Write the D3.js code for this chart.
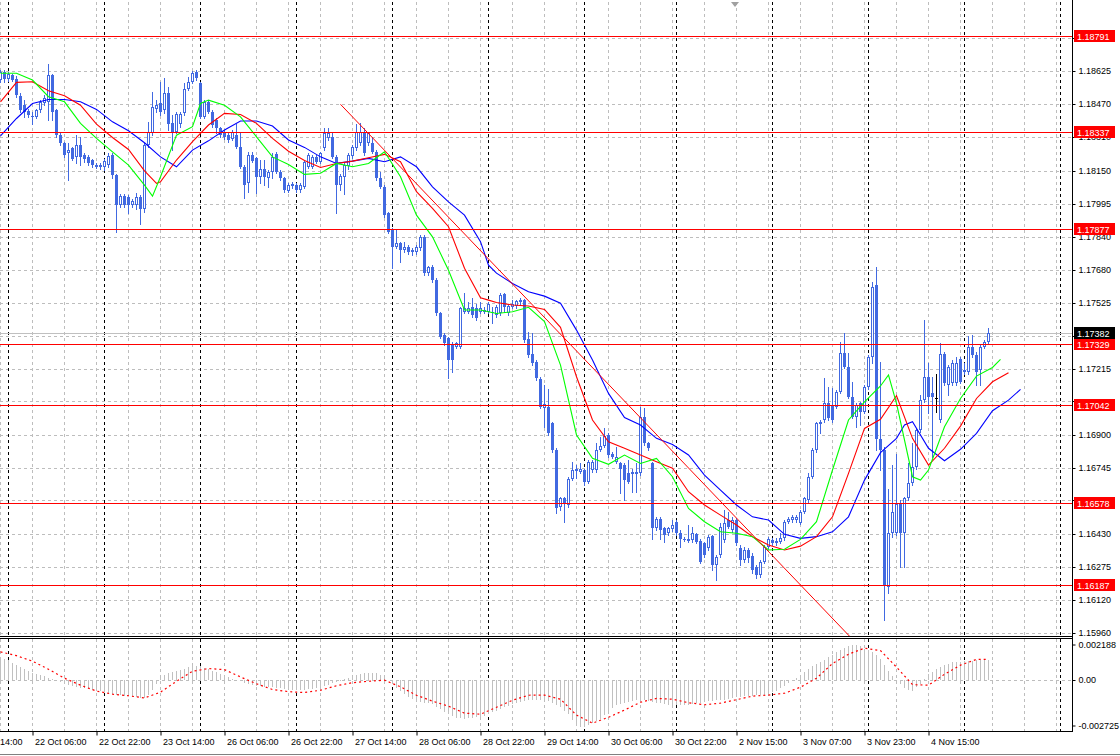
<!DOCTYPE html>
<html><head><meta charset="utf-8">
<script src="https://cdn.jsdelivr.net/npm/d3@7"></script>
<style>
html,body{margin:0;padding:0;background:#fff;}
svg{display:block;}
text{font-family:"Liberation Sans",Arial,sans-serif;font-size:9px;}
</style></head><body>
<svg id="chart" width="1120" height="756"></svg>
<script>
// ---------- DATA ----------
// H1 bars, bar 0 = 21 Oct 22:00
const timeLabels = ["21 Oct 14:00","22 Oct 06:00","22 Oct 22:00","23 Oct 14:00","26 Oct 06:00","26 Oct 22:00","27 Oct 14:00","28 Oct 06:00","28 Oct 22:00","29 Oct 14:00","30 Oct 06:00","30 Oct 22:00","2 Nov 15:00","3 Nov 07:00","3 Nov 23:00","4 Nov 15:00"];
const timeLabelBars = [-8,8,24,40,56,72,88,104,120,136,152,168,184,200,216,232];
const daySeparatorBars = [2,26,50,74,98,122,146,169,193,217,241,265];
// price grid levels (all) and the ones whose labels are not covered by level tags
const priceGrid = [1.18780,1.18625,1.18470,1.18310,1.18150,1.17995,1.17840,1.17680,1.17525,1.17370,1.17215,1.17060,1.16900,1.16745,1.16590,1.16430,1.16275,1.16120,1.15960];
const priceTicks = [1.18625,1.18470,1.18310,1.18150,1.17995,1.17840,1.17680,1.17525,1.17215,1.16900,1.16745,1.16430,1.16275,1.16120,1.15960];
const levelPrices = [1.18791,1.18337,1.17877,1.17329,1.17042,1.16578,1.16187];
const bidPrice = 1.17382;
const oscTicks = [0.002188,0,-0.002725];
const oscTickLabels = ["0.002188","0.00","-0.002725"];

// [open, high, low, close]
const ohlc = [
[1.18582,1.18629,1.18572,1.18620],[1.18620,1.18632,1.18575,1.18585],[1.18585,1.18620,1.18579,1.18610],[1.18604,1.18613,1.18579,1.18582],
[1.18585,1.18601,1.18503,1.18511],[1.18506,1.18519,1.18432,1.18440],[1.18463,1.18487,1.18408,1.18432],[1.18436,1.18447,1.18408,1.18416],
[1.18413,1.18432,1.18376,1.18408],[1.18408,1.18447,1.18400,1.18440],[1.18440,1.18487,1.18432,1.18479],[1.18471,1.18511,1.18463,1.18495],
[1.18479,1.18658,1.18392,1.18605],[1.18605,1.18613,1.18392,1.18432],[1.18440,1.18447,1.18310,1.18321],[1.18321,1.18329,1.18274,1.18282],
[1.18282,1.18289,1.18218,1.18226],[1.18234,1.18282,1.18108,1.18250],[1.18258,1.18266,1.18203,1.18210],[1.18218,1.18321,1.18187,1.18274],
[1.18274,1.18313,1.18179,1.18218],[1.18226,1.18234,1.18195,1.18210],[1.18218,1.18226,1.18179,1.18187],[1.18203,1.18210,1.18171,1.18179],
[1.18179,1.18190,1.18163,1.18171],[1.18179,1.18187,1.18162,1.18168],[1.18168,1.18210,1.18158,1.18198],[1.18179,1.18234,1.18171,1.18222],
[1.18226,1.18234,1.18116,1.18131],[1.18131,1.18139,1.17863,1.17989],[1.17989,1.18041,1.17981,1.18034],[1.18034,1.18041,1.17981,1.17989],
[1.18029,1.18037,1.17950,1.17989],[1.17989,1.18016,1.17981,1.18008],[1.17989,1.18045,1.17973,1.18029],[1.18029,1.18037,1.17902,1.17973],
[1.17973,1.18282,1.17958,1.18274],[1.18274,1.18384,1.18266,1.18337],[1.18329,1.18526,1.18321,1.18455],[1.18447,1.18487,1.18432,1.18463],
[1.18471,1.18574,1.18416,1.18432],[1.18440,1.18590,1.18424,1.18519],[1.18519,1.18550,1.18345,1.18376],[1.18380,1.18416,1.18250,1.18337],
[1.18337,1.18432,1.18329,1.18419],[1.18376,1.18432,1.18361,1.18419],[1.18424,1.18566,1.18416,1.18542],[1.18542,1.18598,1.18534,1.18574],
[1.18574,1.18626,1.18566,1.18617],[1.18621,1.18632,1.18582,1.18590],[1.18566,1.18574,1.18400,1.18408],[1.18408,1.18487,1.18400,1.18479],
[1.18479,1.18487,1.18424,1.18432],[1.18432,1.18440,1.18361,1.18368],[1.18392,1.18400,1.18329,1.18353],[1.18353,1.18361,1.18313,1.18321],
[1.18337,1.18345,1.18301,1.18310],[1.18321,1.18329,1.18289,1.18297],[1.18305,1.18345,1.18297,1.18337],[1.18321,1.18376,1.18258,1.18266],
[1.18266,1.18329,1.18163,1.18171],[1.18171,1.18179,1.18021,1.18084],[1.18092,1.18242,1.18052,1.18226],[1.18227,1.18242,1.18195,1.18200],
[1.18211,1.18219,1.18045,1.18124],[1.18124,1.18203,1.18092,1.18160],[1.18160,1.18203,1.18084,1.18124],[1.18116,1.18155,1.18076,1.18148],
[1.18148,1.18234,1.18116,1.18219],[1.18230,1.18242,1.18140,1.18148],[1.18148,1.18155,1.18108,1.18119],[1.18116,1.18124,1.18053,1.18061],
[1.18058,1.18092,1.18050,1.18084],[1.18081,1.18097,1.18072,1.18088],[1.18084,1.18092,1.18053,1.18061],[1.18061,1.18092,1.18053,1.18084],
[1.18076,1.18203,1.18069,1.18195],[1.18171,1.18234,1.18163,1.18227],[1.18171,1.18227,1.18163,1.18219],[1.18219,1.18227,1.18187,1.18195],
[1.18195,1.18242,1.18187,1.18234],[1.18258,1.18353,1.18250,1.18329],[1.18306,1.18353,1.18298,1.18329],[1.18313,1.18329,1.18211,1.18219],
[1.18219,1.18227,1.17950,1.18084],[1.18084,1.18135,1.18061,1.18129],[1.18124,1.18187,1.18040,1.18179],[1.18176,1.18234,1.18160,1.18227],
[1.18223,1.18274,1.18214,1.18265],[1.18258,1.18372,1.18250,1.18337],[1.18282,1.18377,1.18274,1.18334],[1.18337,1.18353,1.18227,1.18234],
[1.18282,1.18337,1.18274,1.18329],[1.18282,1.18313,1.18234,1.18242],[1.18242,1.18250,1.18108,1.18116],[1.18116,1.18148,1.18069,1.18076],
[1.18076,1.18084,1.17934,1.17942],[1.17950,1.17958,1.17855,1.17863],[1.17871,1.17879,1.17689,1.17792],[1.17792,1.17871,1.17784,1.17808],
[1.17808,1.17816,1.17721,1.17776],[1.17776,1.17816,1.17768,1.17792],[1.17792,1.17800,1.17760,1.17768],[1.17776,1.17784,1.17753,1.17768],
[1.17768,1.17800,1.17760,1.17792],[1.17784,1.17847,1.17776,1.17839],[1.17839,1.17847,1.17658,1.17666],[1.17666,1.17702,1.17658,1.17697],
[1.17697,1.17705,1.17626,1.17634],[1.17634,1.17642,1.17468,1.17476],[1.17476,1.17484,1.17358,1.17365],[1.17373,1.17381,1.17326,1.17334],
[1.17358,1.17365,1.17168,1.17255],[1.17326,1.17342,1.17200,1.17255],[1.17318,1.17342,1.17310,1.17334],[1.17318,1.17508,1.17310,1.17500],
[1.17484,1.17571,1.17476,1.17500],[1.17484,1.17531,1.17476,1.17500],[1.17508,1.17547,1.17460,1.17468],[1.17500,1.17523,1.17444,1.17452],
[1.17484,1.17531,1.17476,1.17500],[1.17492,1.17508,1.17476,1.17484],[1.17484,1.17531,1.17476,1.17523],[1.17484,1.17508,1.17432,1.17476],
[1.17468,1.17515,1.17460,1.17508],[1.17476,1.17574,1.17468,1.17563],[1.17568,1.17574,1.17484,1.17508],[1.17476,1.17523,1.17468,1.17511],
[1.17508,1.17539,1.17500,1.17523],[1.17511,1.17542,1.17504,1.17536],[1.17531,1.17547,1.17523,1.17539],[1.17539,1.17544,1.17342,1.17350],
[1.17353,1.17389,1.17271,1.17278],[1.17283,1.17381,1.17231,1.17239],[1.17247,1.17255,1.17160,1.17168],[1.17165,1.17176,1.17026,1.17034],
[1.17030,1.17136,1.16939,1.17049],[1.17034,1.17120,1.16899,1.16907],[1.16955,1.16962,1.16820,1.16828],[1.16828,1.16836,1.16528,1.16552],
[1.16560,1.16607,1.16544,1.16599],[1.16599,1.16607,1.16488,1.16575],[1.16567,1.16702,1.16560,1.16689],[1.16689,1.16773,1.16686,1.16733],
[1.16733,1.16757,1.16694,1.16741],[1.16725,1.16765,1.16718,1.16741],[1.16733,1.16741,1.16662,1.16678],[1.16678,1.16781,1.16670,1.16773],
[1.16733,1.16781,1.16725,1.16773],[1.16733,1.16860,1.16725,1.16831],[1.16831,1.16891,1.16825,1.16847],[1.16847,1.16931,1.16841,1.16895],
[1.16899,1.16907,1.16797,1.16804],[1.16812,1.16820,1.16789,1.16797],[1.16773,1.16844,1.16765,1.16797],[1.16765,1.16773,1.16623,1.16741],
[1.16757,1.16765,1.16591,1.16686],[1.16721,1.16781,1.16670,1.16678],[1.16718,1.16741,1.16631,1.16725],[1.16718,1.16765,1.16631,1.16725],
[1.16718,1.17034,1.16710,1.16986],[1.16986,1.17026,1.16852,1.16860],[1.16860,1.16868,1.16828,1.16836],[1.16765,1.16773,1.16409,1.16457],
[1.16457,1.16512,1.16449,1.16504],[1.16504,1.16512,1.16409,1.16449],[1.16457,1.16465,1.16394,1.16425],[1.16433,1.16465,1.16425,1.16457],
[1.16452,1.16496,1.16446,1.16473],[1.16488,1.16496,1.16425,1.16433],[1.16436,1.16449,1.16370,1.16405],[1.16409,1.16417,1.16398,1.16405],
[1.16402,1.16473,1.16394,1.16409],[1.16402,1.16465,1.16394,1.16433],[1.16430,1.16436,1.16386,1.16394],[1.16398,1.16405,1.16291,1.16299],
[1.16386,1.16394,1.16323,1.16330],[1.16362,1.16425,1.16354,1.16417],[1.16421,1.16425,1.16259,1.16283],[1.16283,1.16330,1.16212,1.16323],
[1.16331,1.16481,1.16323,1.16465],[1.16402,1.16544,1.16394,1.16481],[1.16497,1.16536,1.16457,1.16465],[1.16449,1.16513,1.16441,1.16497],
[1.16497,1.16505,1.16378,1.16386],[1.16362,1.16378,1.16283,1.16307],[1.16307,1.16370,1.16299,1.16355],[1.16355,1.16362,1.16299,1.16315],
[1.16326,1.16339,1.16244,1.16260],[1.16276,1.16283,1.16220,1.16236],[1.16236,1.16307,1.16228,1.16299],[1.16299,1.16378,1.16291,1.16370],
[1.16370,1.16418,1.16362,1.16407],[1.16402,1.16410,1.16378,1.16386],[1.16386,1.16410,1.16378,1.16397],[1.16394,1.16434,1.16386,1.16410],
[1.16410,1.16497,1.16402,1.16489],[1.16489,1.16513,1.16481,1.16500],[1.16497,1.16520,1.16489,1.16513],[1.16497,1.16520,1.16489,1.16513],
[1.16484,1.16544,1.16478,1.16536],[1.16536,1.16607,1.16528,1.16599],[1.16592,1.16718,1.16576,1.16702],[1.16702,1.16836,1.16694,1.16829],
[1.16829,1.16963,1.16821,1.16958],[1.16955,1.16971,1.16908,1.16963],[1.16971,1.17168,1.16963,1.17050],[1.17053,1.17129,1.16971,1.16979],
[1.17037,1.17121,1.16963,1.16971],[1.17034,1.17113,1.17026,1.17105],[1.17105,1.17342,1.17097,1.17287],[1.17287,1.17385,1.17216,1.17224],
[1.17224,1.17287,1.17073,1.17081],[1.17081,1.17152,1.16979,1.16987],[1.16987,1.17050,1.16939,1.17042],[1.17050,1.17058,1.16947,1.17010],
[1.17010,1.17137,1.17002,1.17129],[1.17128,1.17278,1.17120,1.17270],[1.17270,1.17626,1.17239,1.17602],[1.17610,1.17697,1.16828,1.16883],
[1.16883,1.17247,1.16733,1.16828],[1.16828,1.16844,1.16022,1.16188],[1.16180,1.16646,1.16149,1.16433],[1.16433,1.16757,1.16417,1.16536],
[1.16433,1.16812,1.16425,1.16575],[1.16575,1.16591,1.16275,1.16433],[1.16433,1.16607,1.16275,1.16599],[1.16599,1.16765,1.16591,1.16670],
[1.16670,1.16860,1.16662,1.16749],[1.16749,1.16931,1.16741,1.16923],[1.16923,1.17089,1.16915,1.17065],[1.17065,1.17444,1.17057,1.17176],
[1.17176,1.17239,1.17002,1.17081],[1.17097,1.17176,1.16796,1.17081],[1.17073,1.17191,1.17010,1.17073],[1.16970,1.17334,1.16962,1.17286],
[1.17283,1.17294,1.17136,1.17144],[1.17136,1.17231,1.17089,1.17223],[1.17144,1.17255,1.17136,1.17239],[1.17144,1.17270,1.17136,1.17242],
[1.17262,1.17270,1.17144,1.17152],[1.17199,1.17239,1.17191,1.17207],[1.17199,1.17368,1.17191,1.17318],[1.17315,1.17373,1.17270,1.17278],
[1.17278,1.17294,1.17136,1.17199],[1.17207,1.17326,1.17136,1.17318],[1.17318,1.17349,1.17310,1.17341],[1.17341,1.17409,1.17334,1.17381]
];

// Alligator lines (shifted), [bar, price]
const jaw = [[0,1.18317],[4,1.18400],[8,1.18471],[12,1.18490],[16,1.18490],[20,1.18479],[24,1.18443],[28,1.18384],[32,1.18342],[36,1.18285],[40,1.18218],[44,1.18171],[48,1.18250],[52,1.18294],[56,1.18345],[60,1.18388],[64,1.18388],[68,1.18364],[72,1.18298],[76,1.18263],[80,1.18218],[84,1.18187],[88,1.18198],[92,1.18211],[96,1.18195],[100,1.18218],[104,1.18171],[108,1.18076],[112,1.18005],[116,1.17942],[120,1.17816],[122,1.17705],[124,1.17667],[128,1.17618],[132,1.17579],[136,1.17558],[140,1.17524],[144,1.17397],[148,1.17255],[152,1.17097],[156,1.16983],[160,1.16947],[164,1.16884],[168,1.16855],[172,1.16805],[176,1.16710],[180,1.16639],[184,1.16568],[188,1.16512],[192,1.16497],[196,1.16429],[200,1.16410],[204,1.16418],[208,1.16441],[212,1.16512],[216,1.16686],[220,1.16816],[224,1.16884],[226,1.16947],[228,1.16963],[232,1.16837],[236,1.16778],[240,1.16832],[244,1.16908],[248,1.17015],[252,1.17065],[255,1.17116]];
const teeth = [[0,1.18479],[4,1.18571],[8,1.18574],[12,1.18531],[16,1.18508],[20,1.18463],[24,1.18373],[28,1.18310],[32,1.18253],[36,1.18152],[39,1.18092],[40,1.18100],[44,1.18203],[48,1.18290],[52,1.18369],[56,1.18424],[60,1.18419],[64,1.18377],[68,1.18306],[72,1.18245],[76,1.18201],[80,1.18168],[84,1.18187],[88,1.18198],[92,1.18214],[96,1.18230],[100,1.18195],[104,1.18053],[108,1.17974],[112,1.17887],[116,1.17690],[120,1.17550],[122,1.17539],[124,1.17528],[128,1.17516],[132,1.17511],[136,1.17495],[140,1.17410],[144,1.17176],[148,1.16971],[152,1.16868],[156,1.16837],[160,1.16805],[164,1.16773],[168,1.16742],[172,1.16631],[176,1.16568],[180,1.16520],[184,1.16473],[188,1.16418],[192,1.16378],[196,1.16355],[200,1.16373],[204,1.16418],[208,1.16512],[212,1.16718],[216,1.16931],[220,1.16974],[224,1.17086],[228,1.16884],[232,1.16757],[236,1.16837],[240,1.16942],[244,1.17073],[248,1.17152],[252,1.17195]];
const lips = [[0,1.18614],[4,1.18614],[8,1.18582],[12,1.18503],[16,1.18479],[20,1.18377],[24,1.18306],[28,1.18242],[32,1.18179],[36,1.18084],[38,1.18032],[40,1.18124],[44,1.18321],[48,1.18361],[50,1.18471],[52,1.18487],[56,1.18463],[60,1.18408],[64,1.18313],[68,1.18218],[72,1.18182],[76,1.18135],[80,1.18140],[84,1.18187],[88,1.18171],[92,1.18187],[96,1.18242],[100,1.18124],[104,1.17942],[108,1.17839],[112,1.17681],[116,1.17492],[120,1.17492],[124,1.17476],[128,1.17484],[132,1.17505],[136,1.17437],[140,1.17231],[144,1.16900],[148,1.16789],[152,1.16761],[156,1.16805],[160,1.16765],[164,1.16789],[168,1.16702],[172,1.16552],[176,1.16489],[180,1.16441],[184,1.16434],[188,1.16418],[192,1.16355],[196,1.16358],[200,1.16405],[204,1.16489],[208,1.16734],[212,1.16971],[216,1.17057],[220,1.17132],[222,1.17184],[224,1.17050],[228,1.16702],[230,1.16686],[232,1.16734],[236,1.16939],[240,1.17073],[244,1.17179],[248,1.17220],[250,1.17258]];
// trendline anchors [bar, price]
const trendAnchors = [[85,1.18467],[200,1.16189]];

// MACD main (histogram), one per bar
const macdHist = [
0.00130,0.00121,0.00112,0.00098,0.00084,0.00072,0.00061,0.00052,0.00042,0.00035,
0.00028,0.00021,0.00014,0.00008,0.00003,-0.00010,-0.00022,-0.00028,-0.00034,-0.00038,
-0.00042,-0.00046,-0.00050,-0.00055,-0.00059,-0.00063,-0.00067,-0.00072,-0.00078,-0.00081,
-0.00084,-0.00087,-0.00089,-0.00092,-0.00095,-0.00097,-0.00098,-0.00084,-0.00056,-0.00022,
0.00011,0.00028,0.00039,0.00045,0.00050,0.00055,0.00061,0.00072,0.00084,0.00082,
0.00078,0.00070,0.00061,0.00053,0.00045,0.00035,0.00025,0.00016,0.00008,0.00001,
-0.00006,-0.00014,-0.00022,-0.00027,-0.00031,-0.00034,-0.00036,-0.00038,-0.00039,-0.00042,
-0.00045,-0.00048,-0.00050,-0.00053,-0.00056,-0.00055,-0.00053,-0.00050,-0.00047,-0.00043,
-0.00039,-0.00032,-0.00025,-0.00018,-0.00011,-0.00002,0.00008,0.00015,0.00022,0.00029,
0.00036,0.00038,0.00039,0.00039,0.00039,0.00030,0.00020,0.00000,-0.00020,-0.00042,
-0.00060,-0.00078,-0.00095,-0.00106,-0.00115,-0.00120,-0.00125,-0.00130,-0.00135,-0.00148,
-0.00160,-0.00175,-0.00190,-0.00200,-0.00210,-0.00213,-0.00214,-0.00212,-0.00210,-0.00208,
-0.00205,-0.00198,-0.00190,-0.00180,-0.00170,-0.00160,-0.00150,-0.00142,-0.00135,-0.00127,
-0.00120,-0.00115,-0.00112,-0.00111,-0.00110,-0.00111,-0.00112,-0.00118,-0.00125,-0.00136,
-0.00149,-0.00170,-0.00190,-0.00225,-0.00255,-0.00261,-0.00261,-0.00252,-0.00240,-0.00228,
-0.00215,-0.00195,-0.00175,-0.00158,-0.00140,-0.00132,-0.00125,-0.00120,-0.00115,-0.00113,
-0.00112,-0.00113,-0.00115,-0.00120,-0.00125,-0.00130,-0.00135,-0.00138,-0.00140,-0.00140,
-0.00140,-0.00140,-0.00140,-0.00135,-0.00130,-0.00125,-0.00121,-0.00118,-0.00115,-0.00113,
-0.00112,-0.00108,-0.00105,-0.00100,-0.00095,-0.00092,-0.00090,-0.00088,-0.00086,-0.00085,
-0.00084,-0.00080,-0.00075,-0.00068,-0.00062,-0.00046,-0.00030,-0.00018,-0.00005,0.00012,
0.00030,0.00048,0.00065,0.00078,0.00090,0.00103,0.00115,0.00128,0.00140,0.00155,
0.00170,0.00182,0.00192,0.00195,0.00195,0.00190,0.00175,0.00168,0.00160,0.00140,
0.00120,0.00085,0.00050,0.00025,0.00000,-0.00022,-0.00045,-0.00055,-0.00060,-0.00040,
-0.00020,0.00008,0.00035,0.00048,0.00060,0.00072,0.00084,0.00092,0.00100,0.00102,
0.00104,0.00105,0.00106,0.00108,0.00110,0.00111,0.00112,0.00112
];
// MACD signal, [bar, value]
const macdSignal = [[0,0.00158],[4,0.00137],[8,0.00106],[12,0.00061],[16,0.00011],[20,-0.00028],[24,-0.00061],[28,-0.00078],[32,-0.00087],[36,-0.00099],[40,-0.00067],[44,-0.00006],[48,0.00050],[52,0.00065],[56,0.00059],[60,0.00018],[64,-0.00020],[68,-0.00052],[72,-0.00064],[76,-0.00069],[80,-0.00056],[84,-0.00031],[88,-0.00014],[92,-0.00006],[96,0.00000],[100,-0.00037],[104,-0.00084],[108,-0.00117],[112,-0.00145],[116,-0.00184],[120,-0.00190],[124,-0.00151],[128,-0.00112],[132,-0.00084],[136,-0.00083],[140,-0.00106],[144,-0.00195],[148,-0.00240],[152,-0.00207],[156,-0.00167],[160,-0.00123],[164,-0.00102],[168,-0.00106],[172,-0.00126],[176,-0.00137],[180,-0.00128],[184,-0.00109],[188,-0.00089],[192,-0.00083],[196,-0.00073],[200,-0.00039],[204,0.00011],[208,0.00093],[212,0.00145],[216,0.00179],[220,0.00165],[224,0.00073],[228,-0.00025],[232,-0.00028],[236,0.00033],[240,0.00084],[244,0.00116],[247,0.00117]];

// ---------- DRAW ----------
const plotRight = 1072, mainTop = 2, mainBottom = 636, oscTop = 639, oscBottom = 731;
const candleColor = "#4169E1", gridColor = "#BDBDBD";
const svg = d3.select("#chart");
const x = d3.scaleLinear().domain([0, 266]).range([0.5, 1064.5]);
const y = d3.scaleLinear().domain([1.15960, 1.18625]).range([633.3, 71]);
const yo = d3.scaleLinear().domain([-0.002725, 0.002188]).range([729, 641]);
const py = v => Math.round(y(v)) + 0.5;

svg.append("rect").attr("width",1120).attr("height",756).attr("fill","#fff");
const defs = svg.append("defs");
defs.append("clipPath").attr("id","cm").append("rect").attr("x",0).attr("y",mainTop).attr("width",plotRight).attr("height",mainBottom-mainTop);
defs.append("clipPath").attr("id","co").append("rect").attr("x",0).attr("y",oscTop).attr("width",plotRight).attr("height",oscBottom-oscTop);

const gMain = svg.append("g").attr("clip-path","url(#cm)");
const gOsc = svg.append("g").attr("clip-path","url(#co)");

// vertical grid every 8 bars
const vGrid = d3.range(0, 265, 8);
[[gMain,mainTop,mainBottom],[gOsc,oscTop,oscBottom]].forEach(([g,t,b])=>{
  g.selectAll(null).data(vGrid).join("line")
    .attr("x1",d=>x(d)).attr("x2",d=>x(d)).attr("y1",t).attr("y2",b)
    .attr("stroke",gridColor).attr("stroke-dasharray","3,3").attr("shape-rendering","crispEdges");
});
// horizontal grid
gMain.selectAll(null).data(priceGrid).join("line")
  .attr("x1",0).attr("x2",plotRight).attr("y1",d=>py(d)).attr("y2",d=>py(d))
  .attr("stroke",gridColor).attr("stroke-dasharray","3,3").attr("shape-rendering","crispEdges");
gOsc.append("line").attr("x1",0).attr("x2",plotRight).attr("y1",Math.round(yo(0))+0.5).attr("y2",Math.round(yo(0))+0.5)
  .attr("stroke",gridColor).attr("stroke-dasharray","3,3").attr("shape-rendering","crispEdges");
// day separators
[[gMain,mainTop,mainBottom],[gOsc,oscTop,oscBottom]].forEach(([g,t,b])=>{
  g.selectAll(null).data(daySeparatorBars).join("line")
    .attr("x1",d=>x(d)).attr("x2",d=>x(d)).attr("y1",t).attr("y2",b)
    .attr("stroke","#000").attr("stroke-dasharray","3,3").attr("shape-rendering","crispEdges");
});

// bid line
gMain.append("line").attr("x1",0).attr("x2",plotRight).attr("y1",py(bidPrice)).attr("y2",py(bidPrice))
  .attr("stroke","#C0C0C0").attr("shape-rendering","crispEdges");

// candles
const cand = ohlc.map((d,i)=>({i, o:d[0], h:d[1], l:d[2], c:d[3]}));
gMain.selectAll(null).data(cand).join("line")
  .attr("x1",d=>x(d.i)).attr("x2",d=>x(d.i))
  .attr("y1",d=>Math.round(y(d.h))).attr("y2",d=>Math.round(y(d.l))+1)
  .attr("stroke",d=>d.o===d.c?"#000":candleColor).attr("shape-rendering","crispEdges");
gMain.selectAll(null).data(cand.filter(d=>d.c<d.o)).join("rect")
  .attr("x",d=>x(d.i)-1.5).attr("width",3)
  .attr("y",d=>Math.round(y(d.o))).attr("height",d=>Math.max(1,Math.round(y(d.c))-Math.round(y(d.o))))
  .attr("fill",candleColor).attr("shape-rendering","crispEdges");
gMain.selectAll(null).data(cand.filter(d=>d.c>d.o)).join("rect")
  .attr("x",d=>x(d.i)-1).attr("width",2)
  .attr("y",d=>Math.round(y(d.c))+0.5).attr("height",d=>Math.max(1,Math.round(y(d.o))-Math.round(y(d.c))-1))
  .attr("fill","#fff").attr("stroke",candleColor).attr("shape-rendering","crispEdges");
gMain.selectAll(null).data(cand.filter(d=>d.c===d.o)).join("line")
  .attr("x1",d=>x(d.i)-1.5).attr("x2",d=>x(d.i)+1.5).attr("y1",d=>py(d.o)).attr("y2",d=>py(d.o))
  .attr("stroke","#000").attr("shape-rendering","crispEdges");

// Alligator
const line = d3.line().x(d=>x(d[0])).y(d=>y(d[1]));
[[jaw,"#0000FF"],[teeth,"#FF0000"],[lips,"#00FF00"]].forEach(([data,col])=>{
  gMain.append("path").attr("d",line(data)).attr("fill","none").attr("stroke",col).attr("stroke-width",1.1);
});

// levels
gMain.selectAll(null).data(levelPrices).join("line")
  .attr("x1",0).attr("x2",plotRight).attr("y1",d=>py(d)).attr("y2",d=>py(d))
  .attr("stroke","#FF0000").attr("shape-rendering","crispEdges");
// trendline (ray)
const [t1,t2] = trendAnchors;
const slope = (t2[1]-t1[1])/(t2[0]-t1[0]);
const tEnd = 240;
gMain.append("line").attr("x1",x(t1[0])).attr("y1",y(t1[1])).attr("x2",x(tEnd)).attr("y2",y(t1[1]+slope*(tEnd-t1[0])))
  .attr("stroke","#FF0000").attr("stroke-width",1);

// MACD
gOsc.selectAll(null).data(macdHist).join("line")
  .attr("x1",(d,i)=>x(i)).attr("x2",(d,i)=>x(i))
  .attr("y1",Math.round(yo(0))).attr("y2",d=>Math.round(yo(d)))
  .attr("stroke","#C0C0C0").attr("shape-rendering","crispEdges");
gOsc.append("path").attr("d",d3.line().x(d=>x(d[0])).y(d=>yo(d[1]))(macdSignal))
  .attr("fill","none").attr("stroke","#FF0000").attr("stroke-width",1.2).attr("stroke-dasharray","2,3");

// frames
const frame = svg.append("g").attr("stroke","#000").attr("shape-rendering","crispEdges");
frame.append("line").attr("x1",0).attr("x2",plotRight+0.5).attr("y1",mainBottom+0.5).attr("y2",mainBottom+0.5);
frame.append("line").attr("x1",0).attr("x2",plotRight+0.5).attr("y1",oscTop-0.5).attr("y2",oscTop-0.5);
frame.append("line").attr("x1",0).attr("x2",plotRight+0.5).attr("y1",oscBottom+0.5).attr("y2",oscBottom+0.5);
frame.append("line").attr("x1",plotRight+0.5).attr("x2",plotRight+0.5).attr("y1",0).attr("y2",oscBottom+0.5);

// chart shift marker
svg.append("path").attr("d","M731,2 L739,2 L735,7 Z").attr("fill","#A0A0A0");

// right price axis: ticks on every grid level, labels only where not covered by tags
const axR = d3.axisRight(y).tickValues(priceGrid).tickFormat(d=>priceTicks.includes(d)?d3.format(".5f")(d):"").tickSize(3).tickPadding(3);
const gAR = svg.append("g").attr("transform",`translate(${plotRight+0.5},0)`).call(axR);
gAR.select(".domain").remove();
gAR.selectAll(".tick").attr("transform",d=>`translate(0,${py(d)})`);
gAR.selectAll(".tick").filter(d=>!priceTicks.includes(d)).select("text").remove();
gAR.selectAll("text").attr("font-family","Liberation Sans, Arial, sans-serif").attr("font-size",9).attr("fill","#000");

// level labels
const lab = svg.append("g");
levelPrices.forEach(v=>{
  const yy = Math.round(y(v));
  lab.append("rect").attr("x",1074).attr("y",yy-6).attr("width",41).attr("height",12).attr("fill","#FF0000");
  lab.append("text").attr("x",1077).attr("y",yy+3.5).attr("fill","#fff").text(d3.format(".5f")(v));
});
{
  const yy = Math.round(y(bidPrice));
  lab.append("rect").attr("x",1074).attr("y",yy-6).attr("width",41).attr("height",12).attr("fill","#000");
  lab.append("text").attr("x",1077).attr("y",yy+3.5).attr("fill","#fff").text(d3.format(".5f")(bidPrice));
}

// oscillator axis
const axO = d3.axisRight(yo).tickValues(oscTicks).tickFormat((d,i)=>oscTickLabels[i]).tickSize(3).tickPadding(3);
const gAO = svg.append("g").attr("transform",`translate(${plotRight+0.5},0)`).call(axO);
gAO.select(".domain").remove();
gAO.selectAll(".tick").attr("transform",d=>`translate(0,${Math.min(oscBottom-5,Math.max(oscTop+6,Math.round(yo(d))+0.5))})`);
gAO.selectAll("text").attr("font-family","Liberation Sans, Arial, sans-serif").attr("font-size",9).attr("fill","#000");

// bottom time axis
const axB = d3.axisBottom(x).tickValues(timeLabelBars).tickFormat((d,i)=>timeLabels[i]).tickSize(4).tickPadding(3);
const gAB = svg.append("g").attr("transform",`translate(0,${oscBottom+0.5})`).call(axB);
gAB.select(".domain").remove();
gAB.selectAll("text").attr("text-anchor","start").attr("dx",2)
  .attr("font-family","Liberation Sans, Arial, sans-serif").attr("font-size",9).attr("fill","#000");
svg.append("line").attr("x1",0).attr("x2",1120).attr("y1",754.5).attr("y2",754.5).attr("stroke","#808080");
</script>
</body></html>
